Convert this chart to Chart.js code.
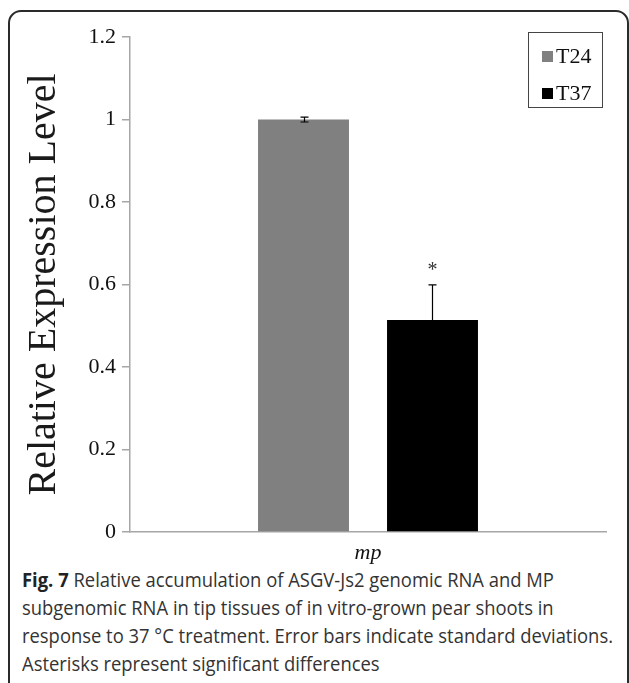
<!DOCTYPE html>
<html>
<head>
<meta charset="utf-8">
<script src="https://cdn.jsdelivr.net/npm/chart.js@4/dist/chart.umd.min.js"></script>
<style>
    html, body { margin: 0; padding: 0; background: #fff; width: 629px; height: 683px; overflow: hidden; position: relative; }
    #frame { position: absolute; left: 8px; top: 10px; width: 617px; height: 700px; border: 2px solid #2b2b2b; border-radius: 13px; }
    #chart { position: absolute; left: 0; top: 0; }
    #legend { position: absolute; left: 528px; top: 32px; width: 73px; height: 74px; border: 1.5px solid #444; font-family: "Liberation Serif", serif; font-size: 22px; color: #111; }
    .item { position: absolute; left: 13px; height: 24px; line-height: 24px; }
    .item span.sw { position: absolute; left: 0; top: 7px; width: 11px; height: 11px; }
    .item span.tx { position: absolute; left: 14px; top: 0; }
    #caption { position: absolute; left: 22px; top: 566px; font-family: "Open Sans", sans-serif; font-size: 20px; line-height: 28px; color: #333; white-space: nowrap; transform: scaleX(0.92); transform-origin: 0 0; }
    #caption b { color: #222; }
</style>
</head>
<body>
<div id="frame"></div>
<canvas id="chart" width="629" height="566"></canvas>
<div id="legend"></div>
<div id="caption">
    <div><b>Fig. 7</b> Relative accumulation of ASGV-Js2 genomic RNA and MP</div>
    <div>subgenomic RNA in tip tissues of in vitro-grown pear shoots in</div>
    <div>response to 37 °C treatment. Error bars indicate standard deviations.</div>
    <div>Asterisks represent significant differences</div>
</div>
<script>
// dados do gráfico
const categories = ['mp'];
const seriesNames = ['T24', 'T37'];
const t24Values = [1.0];
const t37Values = [0.514];
const t24Errors = [0.006];
const t37Errors = [0.085];
const t37Marks = ['*'];
const seriesColors = ['#808080', '#000000'];
const yMin = 0;
const yMax = 1.2;
const yStep = 0.2;

// legenda em HTML
const legendDiv = document.getElementById('legend');
seriesNames.forEach((name, i) => {
    const item = document.createElement('div');
    item.className = 'item';
    item.style.top = (i === 0 ? 11 : 48) + 'px';
    item.innerHTML = `<span class="sw" style="background:${seriesColors[i]}"></span><span class="tx">${name}</span>`;
    legendDiv.appendChild(item);
});

// barras de erro e asteriscos
const errorBarsPlugin = {
    id: 'errorBars',
    afterDatasetsDraw(chart) {
        const ctx = chart.ctx;
        const yScale = chart.scales.y;
        chart.data.datasets.forEach((ds, di) => {
            const meta = chart.getDatasetMeta(di);
            meta.data.forEach((bar, i) => {
                const v = ds.data[i];
                const e = ds.errors[i];
                const yTop = yScale.getPixelForValue(v + e);
                const yBot = yScale.getPixelForValue(Math.max(v - e, 0));
                const x = Math.round(bar.x) + 0.5;
                ctx.save();
                ctx.strokeStyle = '#000';
                ctx.lineWidth = 1.2;
                ctx.beginPath();
                ctx.moveTo(x, yTop);
                ctx.lineTo(x, yBot);
                ctx.moveTo(x - 4, yTop);
                ctx.lineTo(x + 4, yTop);
                ctx.moveTo(x - 4, yBot);
                ctx.lineTo(x + 4, yBot);
                ctx.stroke();
                if (ds.marks && ds.marks[i]) {
                    ctx.fillStyle = '#333';
                    ctx.font = '20px "Liberation Serif", serif';
                    ctx.textAlign = 'center';
                    ctx.textBaseline = 'middle';
                    ctx.fillText(ds.marks[i], x, yTop - 14);
                }
                ctx.restore();
            });
        });
    }
};

const ctx = document.getElementById('chart').getContext('2d');
new Chart(ctx, {
    type: 'bar',
    data: {
        labels: categories,
        datasets: [
            { label: seriesNames[0], data: t24Values, errors: t24Errors, backgroundColor: seriesColors[0], borderWidth: 0 },
            { label: seriesNames[1], data: t37Values, errors: t37Errors, marks: t37Marks, backgroundColor: seriesColors[1], borderWidth: 0 }
        ]
    },
    options: {
        responsive: false,
        devicePixelRatio: 1,
        animation: false,
        categoryPercentage: 0.542,
        barPercentage: 0.705,
        layout: { padding: { left: 0, right: 23, top: 37, bottom: 0 } },
        plugins: {
            legend: { display: false },
            tooltip: { enabled: false }
        },
        scales: {
            x: {
                grid: { display: false },
                border: { display: true, color: '#a6a6a6', width: 1.5 },
                ticks: {
                    color: '#111',
                    padding: 0,
                    font: { family: '"Liberation Serif", serif', size: 22, style: 'italic' }
                },
                afterFit(scale) { scale.height = 34; }
            },
            y: {
                min: yMin,
                max: yMax,
                ticks: {
                    stepSize: yStep,
                    color: '#111',
                    padding: 6,
                    font: { family: '"Liberation Serif", serif', size: 22 },
                    callback: (v) => String(Math.round(v * 10) / 10)
                },
                grid: { drawOnChartArea: false, drawTicks: true, tickLength: 8, color: '#a6a6a6', lineWidth: 1.5 },
                border: { display: true, color: '#a6a6a6', width: 1.5 },
                title: {
                    display: true,
                    text: 'Relative Expression Level',
                    color: '#1a1a1a',
                    padding: { top: 20, bottom: 0 },
                    font: { family: '"Liberation Serif", serif', size: 40 }
                },
                afterFit(scale) { scale.width = 130; }
            }
        }
    },
    plugins: [errorBarsPlugin]
});
</script>
</body>
</html>
